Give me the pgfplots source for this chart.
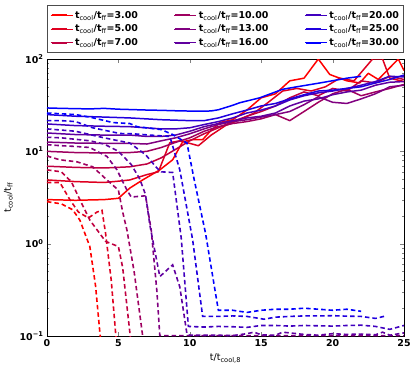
\documentclass[border=0pt]{standalone}
\usepackage{fontspec}
\setmainfont{DejaVu Sans}
\usepackage{pgfplots}
\pgfplotsset{compat=1.18}
% red -> blue, one step per run
\definecolor{kiii}{RGB}{255,0,0}
\definecolor{kv}{RGB}{223,0,32}
\definecolor{kvii}{RGB}{191,0,64}
\definecolor{kx}{RGB}{159,0,96}
\definecolor{kxiii}{RGB}{128,0,128}
\definecolor{kxvi}{RGB}{96,0,159}
\definecolor{kxx}{RGB}{64,0,191}
\definecolor{kxxv}{RGB}{32,0,223}
\definecolor{kxxx}{RGB}{0,0,255}
\pgfplotsset{
  sol/.style={line width=1.5pt, line join=round, forget plot},
  das/.style={line width=1.6pt, dash pattern=on 4.5pt off 3pt, forget plot},
}
\newcommand{\lab}[1]{\textbf{t\textsubscript{\mdseries cool}/t\textsubscript{\mdseries ff}=#1}}
\begin{document}
\begin{tikzpicture}
\begin{axis}[
  scale only axis, width=357bp, height=277bp,
  xmin=0, xmax=25, ymode=log, ymin=0.1, ymax=100,
  xtick={0,5,10,15,20,25},
  xticklabels={\textbf{0},\textbf{5},\textbf{10},\textbf{15},\textbf{20},\textbf{25}},
  ytick={0.1,1,10,100},
  yticklabels={\textbf{10\textsuperscript{−1}},\textbf{10\textsuperscript{0}},\textbf{10\textsuperscript{1}},\textbf{10\textsuperscript{2}}},
  tick label style={font=\fontsize{9.5}{11}\selectfont},
  label style={font=\fontsize{9.5}{11}\selectfont},
  xlabel={t/t\textsubscript{cool,8}},
  ylabel={t\textsubscript{cool}/t\textsubscript{ff}},
  axis line style={line width=0.8pt},
  major tick length=4bp, minor tick length=2bp,
  legend columns=3,
  legend cell align=left,
  legend image code/.code={\path (-1bp,0bp) -- (21bp,0bp); \draw[line width=2pt, #1] (0bp,0bp) -- (15bp,0bp);},
  legend style={at={(0.5,1)}, anchor=south, yshift=6bp,
    draw=black!70, line width=1pt, inner xsep=3bp, inner ysep=3.5bp, row sep=1.2bp,
    font=\fontsize{9.5}{11}\selectfont,
    /tikz/every even column/.append style={column sep=34bp}},
]
\addlegendimage{color=kiii}\addlegendentry{\lab{3.00}}
\addlegendimage{color=kx}\addlegendentry{\lab{10.00}}
\addlegendimage{color=kxx}\addlegendentry{\lab{20.00}}
\addlegendimage{color=kv}\addlegendentry{\lab{5.00}}
\addlegendimage{color=kxiii}\addlegendentry{\lab{13.00}}
\addlegendimage{color=kxxv}\addlegendentry{\lab{25.00}}
\addlegendimage{color=kvii}\addlegendentry{\lab{7.00}}
\addlegendimage{color=kxvi}\addlegendentry{\lab{16.00}}
\addlegendimage{color=kxxx}\addlegendentry{\lab{30.00}}

% solid curves
\addplot[sol, kiii] coordinates {(0,3.0)(2,2.95)(4,3.0)(5,3.1)(5.8,4.0)(6.7,4.9)(7.9,6.3)(8.8,8.1)(9.5,12.7)(10.2,13.4)(10.9,13.4)(11.4,16.3)(12.1,20.5)(13,22)(14,28)(15,38)(16,42)(17,58)(18,62)(19,100)(19.8,68)(21,58)(21.9,55)(22.5,70)(23.2,60)(24.6,100)(25,75)};
\addplot[sol, kv] coordinates {(0,4.9)(2,4.7)(4,4.6)(5,4.75)(5.8,4.9)(7,5.6)(7.8,6)(8.6,12.4)(9.3,13)(10,12.2)(10.6,11.5)(11.5,15)(12.5,19)(13.5,22)(14.5,26)(15.5,34)(16.5,45)(17.5,48)(18.5,45)(19.5,50)(20.5,62)(21.5,58)(22.8,100)(23.5,100)(24,62)(25,57)};
\addplot[sol, kvii] coordinates {(0,6.9)(2,6.7)(4,6.6)(5.8,6.8)(7,7.3)(8,8.5)(9,10.5)(10,13)(11,15.5)(12,18)(13,21)(14,24)(15,27)(16,31)(17,38)(18,44)(19,40)(20,48)(21,45)(22,58)(23,55)(24,65)(25,60)};
\addplot[sol, kx] coordinates {(0,10)(2,9.7)(4,9.6)(5.8,9.7)(7,10)(8,11)(9,12.5)(10,14)(11,16.5)(12,18.5)(13,20)(14,21)(15,22.5)(16,25)(17,21.5)(18,27)(19,34)(20,42)(21,47)(22,40)(23,44)(24,48)(25,53)};
\addplot[sol, kxiii] coordinates {(0,12.6)(2,12.3)(4,12.2)(5.8,12.2)(7,12)(8,13)(9,14)(10,15.5)(11,17.5)(12,19.5)(13,21)(14,22)(15,23.5)(16,25)(17,27)(18,32)(19,39)(20,34)(21,33)(22,37)(23,42)(24,50)(25,52)};
\addplot[sol, kxvi] coordinates {(0,15.8)(2,15.2)(4,15)(5.8,15)(7,14.5)(8,14.5)(9,15)(10,16.5)(11,18.5)(12,20)(13,21.5)(14,23)(15,24)(16,26)(17,31)(18,35)(19,37)(20,41)(21,44)(22,46)(23,52)(24,56)(25,57)};
\addplot[sol, kxx] coordinates {(0,19.8)(2,19)(4,18.7)(5.8,18.5)(8,17.5)(9,17.5)(10,18)(11,19.5)(12,21)(13,23)(14,26)(15,28)(16,31)(17,36)(18,40)(19,43)(20,45)(21,48)(22,52)(23,57)(24,65)(25,64)};
\addplot[sol, kxxv] coordinates {(0,25)(2,24)(4,23.5)(5.8,23)(8,22)(10,21.5)(11,21.5)(12,23)(13,25.5)(14,28)(15,31)(16,33)(17,37)(18,41)(19,45)(20,46)(21,48)(22,50)(23,55)(24,60)(25,67)};
\addplot[sol, kxxx] coordinates {(0,29.5)(1,29.2)(2,29.0)(3,28.8)(4,29.2)(5,28.6)(6,28.3)(7,28)(8,27.8)(9,27.5)(10,27.3)(11,27.2)(11.5,27.4)(12,28.2)(13,31.5)(13.5,33.6)(14.9,38)(16.5,47)(17.5,50)(19.1,55)(20.5,60)(21,62)(22,65)};

% dashed curves
\addplot[das, kiii] coordinates {(0,2.85)(1,2.7)(1.8,2.33)(2.3,1.8)(3.0,0.93)(3.4,0.35)(3.7,0.11)(3.8,0.08)};
\addplot[das, kv] coordinates {(0,4.6)(0.9,4.6)(1.6,3.0)(2.2,2.2)(2.9,1.9)(3.5,2.2)(3.85,2.3)(4.1,1.3)(4.5,0.4)(4.8,0.11)(4.9,0.08)};
\addplot[das, kvii] coordinates {(0,6.3)(1,6.0)(1.7,4.7)(2.3,3.0)(3,1.8)(4.1,1.06)(5,0.93)(5.3,0.55)(5.8,0.11)(5.9,0.08)};
\addplot[das, kx] coordinates {(0,8.9)(0.9,8.1)(2.1,7.7)(3.2,6.8)(4.2,4.9)(5,3.8)(5.3,2.2)(5.6,1.4)(6.1,0.5)(6.7,0.1)(6.8,0.08)};
\addplot[das, kxiii] coordinates {(0,11.8)(1,11.5)(2,11.3)(3,11)(4.2,8.8)(4.9,6.3)(5.6,3.8)(5.9,3.2)(6.9,3.3)(7.3,1.4)(7.7,0.3)(7.9,0.101)(10,0.101)(15,0.101)(20,0.101)(25,0.101)};
\addplot[das, kxvi] coordinates {(0,14.2)(1,14)(2,13.5)(3,13)(4,12)(5,10)(5.9,7.2)(6.5,5)(6.9,3.4)(7.2,1.6)(7.9,0.44)(8.8,0.59)(9.3,0.34)(9.8,0.105)(10,0.102)(12,0.102)(13,0.101)(14,0.106)(14.5,0.11)(15,0.103)(16,0.102)(16.5,0.11)(17,0.108)(18,0.104)(19,0.102)(20,0.106)(21,0.104)(22,0.105)(23,0.103)(23.5,0.11)(24,0.102)(25,0.108)};
\addplot[das, kxx] coordinates {(0,17.5)(2,16.5)(4,14)(5.8,12.3)(6.9,9.2)(7.7,6.6)(8,6)(8.8,5.9)(9.4,1.15)(9.9,0.127)(11,0.125)(12,0.127)(13,0.126)(14,0.124)(15,0.13)(16,0.13)(17,0.128)(18,0.13)(19,0.129)(20,0.128)(21,0.13)(22,0.131)(23,0.127)(24,0.118)(25,0.13)};
\addplot[das, kxxv] coordinates {(0,21.5)(1,21.5)(2,21)(3.2,18)(5.1,15.6)(6,15.5)(7.2,15)(8.6,14.5)(9.3,6.3)(10.2,1.1)(10.9,0.163)(12,0.163)(13,0.165)(14,0.163)(15.2,0.152)(16,0.16)(17,0.163)(18,0.165)(19,0.165)(20,0.166)(21,0.164)(22,0.163)(23,0.155)(23.8,0.166)};
\addplot[das, kxxx] coordinates {(0,26)(1,25.5)(2,25)(3,23.5)(4.6,20.5)(5.8,20)(6.3,18.5)(8,17.2)(8.8,15.2)(9.8,12.3)(10.3,5)(11.1,1.3)(12,0.19)(13,0.19)(14,0.18)(15,0.19)(16,0.195)(17,0.195)(18,0.2)(19,0.195)(20,0.19)(21,0.195)(22,0.185)};

\coordinate (o) at (rel axis cs:0,0);
\end{axis}
\path ([shift={(-47bp,-35bp)}]o) rectangle ([shift={(368bp,336bp)}]o);
\end{tikzpicture}
\end{document}
